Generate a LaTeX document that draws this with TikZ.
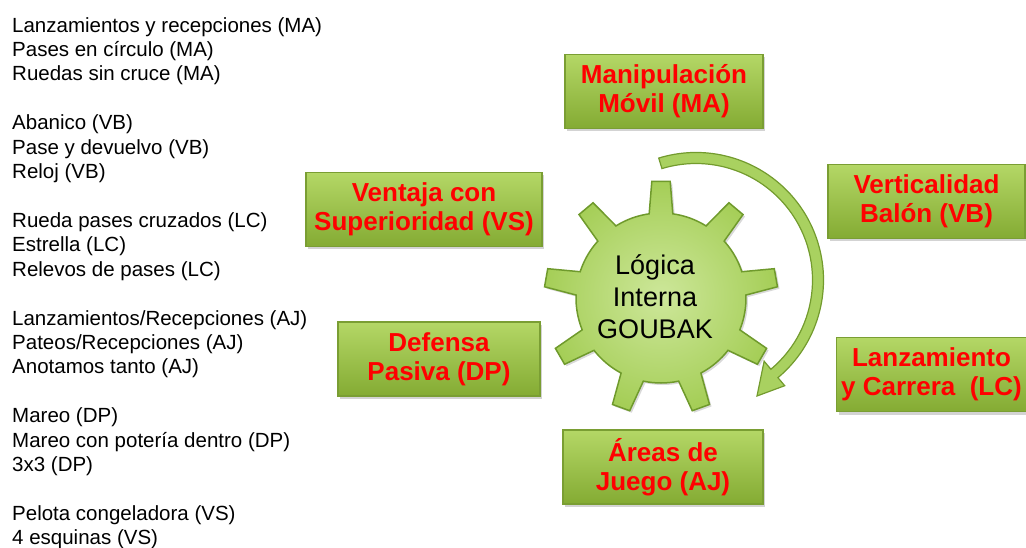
\documentclass[tikz,border=0pt]{standalone}
\usepackage{fontspec}
\setmainfont{Liberation Sans}
\usetikzlibrary{positioning, shadows}
\definecolor{boxtop}{HTML}{B4D766}
\definecolor{boxbot}{HTML}{84AB33}
\definecolor{boxedge}{HTML}{7A9E33}
\definecolor{gearin}{HTML}{CDE79A}
\definecolor{gearout}{HTML}{A5CE57}
\definecolor{gearedge}{HTML}{6F9A2C}
\definecolor{turnfill}{HTML}{A9D160}
\definecolor{turnedge}{HTML}{739B2E}

\begin{document}
\begin{tikzpicture}[x=1pt, y=-1pt,
  catbox/.style={rectangle, draw=boxedge, line width=1.2, top color=boxtop, bottom color=boxbot,
    minimum height=74, align=center, text=red, font=\bfseries\fontsize{26}{29}\selectfont,
    drop shadow={shadow xshift=2pt, shadow yshift=-3pt, opacity=0.35}},
  listtext/.style={anchor=base west, align=left, inner sep=0, font=\fontsize{20.5}{24.4}\selectfont},
  geartext/.style={align=center, font=\fontsize{27}{32}\selectfont}]
  \useasboundingbox (0,0) rectangle (1026,548);
  % Exercise list (anchored on the last line)
  \node[listtext] (listma) at (12,81) {Lanzamientos y recepciones (MA)\\Pases en círculo (MA)\\Ruedas sin cruce (MA)};
  \node[listtext] (listvb) at (12,178.6) {Abanico (VB)\\Pase y devuelvo (VB)\\Reloj (VB)};
  \node[listtext] (listlc) at (12,276.2) {Rueda pases cruzados (LC)\\Estrella (LC)\\Relevos de pases (LC)};
  \node[listtext] (listaj) at (12,373.8) {Lanzamientos/Recepciones (AJ)\\Pateos/Recepciones (AJ)\\Anotamos tanto (AJ)};
  \node[listtext] (listdp) at (12,471.4) {Mareo (DP)\\Mareo con potería dentro (DP)\\3x3 (DP)};
  \node[listtext] (listvs) at (12,544.6) {Pelota congeladora (VS)\\4 esquinas (VS)};
  % Gear
  \begin{scope}[shift={(661,298)}]
    \path[draw=gearedge, line width=1.5, inner color=gearin, outer color=gearout,
      drop shadow={shadow xshift=2pt, shadow yshift=-2pt, opacity=0.3}]
      (-100:85) \foreach \t in {-90,-50,...,230} {
        -- (\t-8:85) -- (\t-4.5:117) -- (\t+4.5:117) -- (\t+8:85)
        arc[start angle=\t+8, end angle=\t+32, radius=85] } -- cycle;
  \end{scope}
  \node[geartext] (logic) at (655,297) {Lógica\\Interna\\GOUBAK};
  % Turning arrow
  \begin{scope}[shift={(696,280)}]
    \coordinate (turnstart) at (-107:127.5);
    \coordinate (turntip) at (61,116);
    \filldraw[fill=turnfill, draw=turnedge, line width=1.2]
      (turnstart) arc[start angle=-107, end angle=50, radius=127.5]
      -- (50:138) -- (turntip) -- (50:106) -- (50:116.5)
      arc[start angle=50, end angle=-107, radius=116.5] -- cycle;
  \end{scope}
  % Categories
  \node[catbox, minimum width=198] (ma) at (664,91.5) {Manipulación\\Móvil (MA)};
  \node[catbox, minimum width=197] (vb) at (926.5,201.5) {Verticalidad\\Balón (VB)};
  \node[catbox, minimum width=236] (vs) at (424,209.5) {Ventaja con\\Superioridad (VS)};
  \node[catbox, minimum width=202] (dp) at (439,359) {Defensa\\Pasiva (DP)};
  \node[catbox, minimum width=190, inner sep=0] (lc) at (931.5,374.5) {Lanzamiento\\y Carrera~ (LC)};
  \node[catbox, minimum width=200] (aj) at (663,467) {Áreas de\\Juego (AJ)};
\end{tikzpicture}
\end{document}
